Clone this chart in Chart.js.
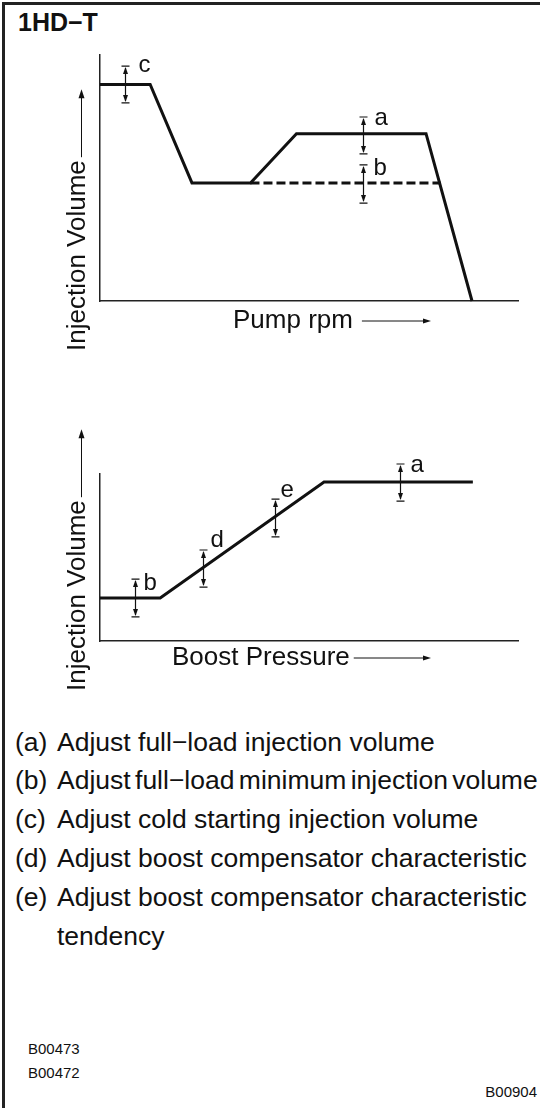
<!DOCTYPE html>
<html>
<head>
<meta charset="utf-8">
<script src="https://cdn.jsdelivr.net/npm/chart.js@4.4.0/dist/chart.umd.min.js"></script>
<style>
  body { margin: 0; background: #fff; }
  #page {
    position: relative; width: 540px; height: 1108px; overflow: hidden;
    font-family: "Liberation Sans", Arial, sans-serif; color: #111;
  }
  #frame {
    position: absolute; left: 2px; top: 2px; width: 560px; height: 1130px;
    border-top: 3px solid #222; border-left: 3px solid #222;
  }
  #title { position: absolute; left: 18px; top: 10px; font-weight: bold; font-size: 25px; line-height: 1; }
  canvas { position: absolute; left: 0; }
  #pumpChart { top: 0; }
  #boostChart { top: 380px; }
  .note { position: absolute; left: 15px; font-size: 26.5px; line-height: 1; white-space: nowrap; }
  .note .tag { display: inline-block; width: 42px; }
  .code { position: absolute; font-size: 15px; line-height: 1; }
</style>
</head>
<body>
<div id="page">
  <div id="frame"></div>
  <div id="title">1HD−T</div>
  <canvas id="pumpChart" width="540" height="380"></canvas>
  <canvas id="boostChart" width="540" height="340"></canvas>

  <div class="note" style="top:729px"><span class="tag">(a)</span>Adjust full−load injection volume</div>
  <div class="note" style="top:767px; word-spacing:-3px"><span class="tag">(b)</span>Adjust full−load minimum injection volume</div>
  <div class="note" style="top:806px"><span class="tag">(c)</span>Adjust cold starting injection volume</div>
  <div class="note" style="top:845px"><span class="tag">(d)</span>Adjust boost compensator characteristic</div>
  <div class="note" style="top:884px"><span class="tag">(e)</span>Adjust boost compensator characteristic</div>
  <div class="note" style="top:923px"><span class="tag"></span>tendency</div>

  <div class="code" style="left:28px; top:1041px">B00473</div>
  <div class="code" style="left:28px; top:1065px">B00472</div>
  <div class="code" style="right:3px; top:1084px">B00904</div>
</div>

<script>
// pump rpm vs injection volume (full load curve + minimum full load)
const rpmPoints = [0, 12, 22, 36, 47, 78, 89];
const rpmVolume = [88, 88, 48, 48, 68, 68, 0];
const minLoadRpm = [36, 81.5];
const minLoadVolume = [48, 48];

// adjustment marks on the rpm curve
const rpmMarkLetters = ["c", "a", "b"];
const rpmMarkX = [6, 63, 63];
const rpmMarkLow = [80.5, 59.8, 39.8];
const rpmMarkHigh = [95.5, 74.8, 55.3];

// boost pressure vs injection volume
const boostPoints = [0, 14.4, 53.6, 89.2];
const boostVolume = [25.7, 25.7, 95.2, 95.2];

const boostMarkLetters = ["b", "d", "e", "a"];
const boostMarkX = [8.4, 24.6, 41.9, 71.8];
const boostMarkLow = [14.4, 32.3, 62.3, 83.8];
const boostMarkHigh = [37.1, 54.5, 85, 106];

const ink = "#111";
const fontFamily = '"Liberation Sans", Arial, sans-serif';

function toXY(xs, ys) {
  return xs.map((x, i) => ({ x: x, y: ys[i] }));
}

function arrowHead(ctx, x, y, dx, dy, len, half) {
  // tip at (x, y), pointing along (dx, dy)
  const bx = x - dx * len, by = y - dy * len;
  ctx.beginPath();
  ctx.moveTo(x, y);
  ctx.lineTo(bx - dy * half, by + dx * half);
  ctx.lineTo(bx + dy * half, by - dx * half);
  ctx.closePath();
  ctx.fill();
}

// draws axis captions with arrows and the letter marks
const sketchMarks = {
  id: "sketchMarks",
  afterDraw(chart, args, opts) {
    const ctx = chart.ctx;
    const area = chart.chartArea;
    const xs = chart.scales.x, ys = chart.scales.y;
    ctx.save();
    ctx.fillStyle = ink;
    ctx.strokeStyle = ink;

    // y caption, reading upwards
    ctx.font = "26px " + fontFamily;
    const yText = "Injection Volume";
    const yLen = ctx.measureText(yText).width;
    const yStart = area.bottom + 50;
    const yBase = area.left - 15;
    ctx.save();
    ctx.translate(yBase, yStart);
    ctx.rotate(-Math.PI / 2);
    ctx.textBaseline = "alphabetic";
    ctx.fillText(yText, 0, 0);
    ctx.restore();
    const ax = yBase - 3.5;
    const tail = yStart - yLen - 3;
    const tip = yStart - yLen - 71;
    ctx.lineWidth = 1;
    ctx.beginPath();
    ctx.moveTo(ax, tail);
    ctx.lineTo(ax, tip + 6);
    ctx.stroke();
    arrowHead(ctx, ax, tip, 0, -1, 9, 3);

    // x caption with arrow to the right
    const xText = opts.xText;
    const tx = area.left + opts.xTextOffset;
    const tb = area.bottom + opts.xBaseline;
    ctx.fillText(xText, tx, tb);
    const xEnd = tx + ctx.measureText(xText).width;
    const ay = tb - 7;
    ctx.beginPath();
    ctx.moveTo(xEnd + opts.arrowGap, ay);
    ctx.lineTo(area.left + 325, ay);
    ctx.stroke();
    arrowHead(ctx, area.left + 331, ay, 1, 0, 8, 2.5);

    // adjustment marks: double arrow between end bars, letter beside
    ctx.font = "24px " + fontFamily;
    opts.letters.forEach((letter, i) => {
      const px = Math.round(xs.getPixelForValue(opts.markX[i])) + 0.5;
      const top = ys.getPixelForValue(opts.markHigh[i]);
      const bot = ys.getPixelForValue(opts.markLow[i]);
      ctx.lineWidth = 1.2;
      ctx.beginPath();
      ctx.moveTo(px, top + 2);
      ctx.lineTo(px, bot - 2);
      ctx.moveTo(px - 4, top);
      ctx.lineTo(px + 4, top);
      ctx.moveTo(px - 4, bot);
      ctx.lineTo(px + 4, bot);
      ctx.stroke();
      arrowHead(ctx, px, top + 1, 0, -1, 7, 2.5);
      arrowHead(ctx, px, bot - 1, 0, 1, 7, 2.5);
      const nudge = opts.labelNudge[i];
      ctx.fillText(letter, px + nudge[0], top + nudge[1]);
    });
    ctx.restore();
  }
};

function plainScale(isX, max) {
  return {
    type: "linear",
    min: 0,
    max: max,
    grid: { display: false, drawTicks: false },
    ticks: { display: false },
    border: { display: true, color: "#222", width: 1.5 },
    afterFit(scale) {
      if (isX) scale.height = 0; else scale.width = 0;
    }
  };
}

function makeChart(id, datasets, padding, marks) {
  return new Chart(document.getElementById(id), {
    type: "line",
    data: { datasets: datasets },
    options: {
      responsive: false,
      animation: false,
      events: [],
      layout: { padding: padding },
      elements: { point: { radius: 0 }, line: { tension: 0 } },
      plugins: {
        legend: { display: false },
        tooltip: { enabled: false },
        sketchMarks: marks
      },
      scales: { x: plainScale(true, 100), y: plainScale(false, 100) }
    },
    plugins: [sketchMarks]
  });
}

makeChart("pumpChart", [
  {
    data: toXY(rpmPoints, rpmVolume),
    borderColor: ink, borderWidth: 3, clip: 4, borderJoinStyle: "miter"
  },
  {
    data: toXY(minLoadRpm, minLoadVolume),
    borderColor: ink, borderWidth: 3, borderDash: [9, 4], clip: 4
  }
], { left: 100, right: 22, top: 55, bottom: 79 }, {
  xText: "Pump rpm", xTextOffset: 133, xBaseline: 27, arrowGap: 9,
  letters: rpmMarkLetters, markX: rpmMarkX, markLow: rpmMarkLow, markHigh: rpmMarkHigh,
  labelNudge: [[13, 6], [11, 8], [10, 10]]
});

makeChart("boostChart", [
  {
    data: toXY(boostPoints, boostVolume),
    borderColor: ink, borderWidth: 3, clip: 4, borderJoinStyle: "miter"
  }
], { left: 100, right: 22, top: 94, bottom: 79 }, {
  xText: "Boost Pressure", xTextOffset: 72, xBaseline: 24, arrowGap: 4,
  letters: boostMarkLetters, markX: boostMarkX, markLow: boostMarkLow, markHigh: boostMarkHigh,
  labelNudge: [[8, 11], [7, -3], [5, -2], [10, 8]]
});
</script>
</body>
</html>
